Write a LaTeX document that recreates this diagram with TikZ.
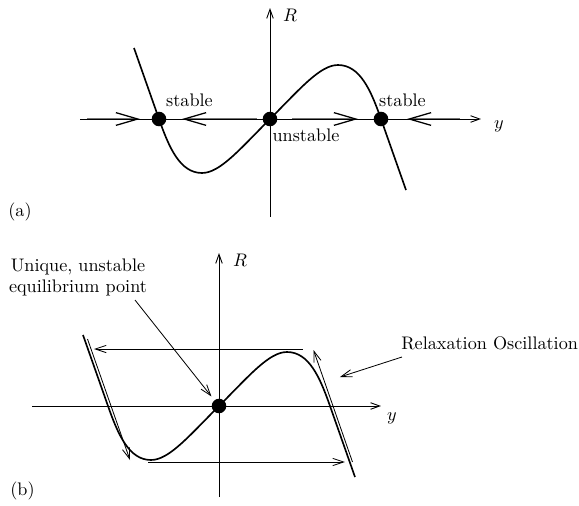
\documentclass[tikz,border=0pt]{standalone}
\usetikzlibrary{arrows.meta}
\tikzset{
  axis/.style={line width=0.5pt, -{Straight Barb[length=5pt,width=3.6pt]}},
  curve/.style={line width=0.9pt},
  flow/.style={line width=1.2pt, black!55, -{Straight Barb[length=12pt,width=7pt,line width=0.7pt,color=black]}},
  dot/.style={circle, fill, inner sep=0pt, minimum size=8pt},
  thinarrow/.style={line width=0.45pt, -{Straight Barb[length=6pt,width=4pt]}},
}
\begin{document}
\begin{tikzpicture}[scale=0.9665]
    \useasboundingbox (-5.4,-7.74) rectangle (6.18,2.38);
    % (a) 三个平衡点
    \foreach \a/\b in {-3.66/-2.6, -0.26/-1.76, 0.44/1.76, 3.8/2.74}
        \draw[flow] (\a,0) -- (\b,0);
    \coordinate (xa0) at (-3.8,0);
    \coordinate (xa1) at (4.22,0);
    \coordinate (ra0) at (0,-1.96);
    \coordinate (ra1) at (0,2.22);
    \draw[axis] (xa0) -- (xa1);
    \draw[axis] (ra0) -- (ra1);
    \node (Ra) at (0.4,2.08) {$R$};
    \node (ya) at (4.58,-0.14) {$y$};
    % 曲线 R(y)
    \foreach \sh in {(0,0),(-1.02,-5.74)}
        \draw[curve, shift={\sh}] (-2.72,1.42) -- (-2.22,0) .. controls (-2.02,-0.57) and (-1.8,-1.08) .. (-1.36,-1.08)
            .. controls (-1.0,-1.08) and (-0.6,-0.6) .. (0,0)
            .. controls (0.6,0.6) and (1.0,1.08) .. (1.36,1.08)
            .. controls (1.8,1.08) and (2.02,0.57) .. (2.22,0) -- (2.72,-1.42);
    \node[dot] (sl) at (-2.22,0) {};
    \node[dot] (un) at (0,0) {};
    \node[dot] (sr) at (2.22,0) {};
    \node (sltxt) at (-1.61,0.37) {stable};
    \node (srtxt) at (2.65,0.37) {stable};
    \node (untxt) at (0.72,-0.33) {unstable};
    \node (lbla) at (-5.0,-1.86) {(a)};
    % (b) 张弛振荡
    \begin{scope}[shift={(-1.02,-5.74)}]
        \coordinate (xb0) at (-3.74,0);
        \coordinate (xb1) at (3.24,0);
        \coordinate (rb0) at (0,-1.82);
        \coordinate (rb1) at (0,3.06);
        \draw[axis] (xb0) -- (xb1);
        \draw[axis] (rb0) -- (rb1);
        \node (Rb) at (0.42,2.92) {$R$};
        \node (yb) at (3.46,-0.24) {$y$};
        \node[dot] (eq) at (0,0) {};
        % 振荡路径
        \coordinate (jr) at (1.68,1.14);
        \coordinate (jl) at (-2.5,1.14);
        \coordinate (dl0) at (-2.63,1.34);
        \coordinate (dl1) at (-1.78,-1.08);
        \coordinate (kl) at (-1.42,-1.12);
        \coordinate (kr) at (2.52,-1.12);
        \coordinate (ur0) at (2.67,-1.12);
        \coordinate (ur1) at (1.89,1.12);
        \draw[thinarrow] (jr) -- (jl);
        \draw[thinarrow] (dl0) -- (dl1);
        \draw[thinarrow] (kl) -- (kr);
        \draw[thinarrow] (ur0) -- (ur1);
        % 标注
        \node[align=center] (eqtxt) at (-2.82,2.57) {Unique, unstable\\equilibrium point};
        \coordinate (eqtail) at (-1.68,2.12);
        \draw[thinarrow, shorten >=2.5pt] (eqtail) -- (eq);
        \node[anchor=west, inner sep=0pt] (relax) at (3.64,1.26) {Relaxation Oscillation};
        \coordinate (rxtail) at (3.66,0.98);
        \coordinate (rxtip) at (2.42,0.58);
        \draw[thinarrow] (rxtail) -- (rxtip);
    \end{scope}
    \node (lblb) at (-4.95,-7.44) {(b)};
\end{tikzpicture}
\end{document}
